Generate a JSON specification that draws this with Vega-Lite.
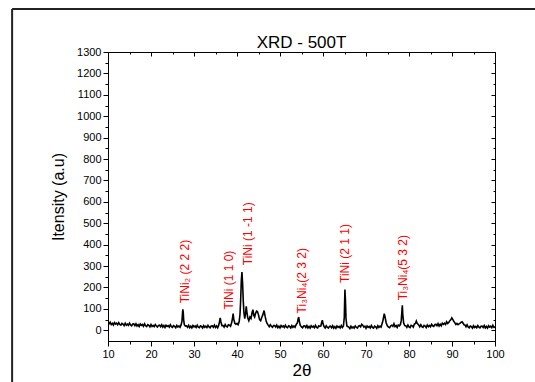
{
"$schema": "https://vega.github.io/schema/vega-lite/v6.json",
"width": 387, "height": 289,
"autosize": {"type": "none"},
"padding": {"left": 108, "top": 52, "right": 40, "bottom": 41},
"background": "white",
"config": {
  "view": {"stroke": "black", "strokeWidth": 1},
  "font": "Liberation Sans",
  "axis": {"grid": false, "domainColor": "black", "tickColor": "black", "labelColor": "black", "titleColor": "black", "labelFont": "Liberation Sans", "titleFont": "Liberation Sans", "labelFontSize": 11, "titleFontWeight": "normal", "labelFlush": false, "labelOverlap": false}
},
"title": {"text": "XRD - 500T", "fontSize": 17, "fontWeight": "normal", "font": "Liberation Sans", "color": "black", "offset": 0, "dy": 44},
"datasets": {
  "xrd": [
{"x":10.0,"y":37},{"x":10.25,"y":30},{"x":10.5,"y":38},{"x":10.75,"y":27},{"x":11.0,"y":33},{"x":11.25,"y":25},{"x":11.5,"y":36},{"x":11.75,"y":29},
{"x":12.0,"y":33},{"x":12.25,"y":26},{"x":12.5,"y":36},{"x":12.75,"y":27},{"x":13.0,"y":24},{"x":13.25,"y":32},{"x":13.5,"y":29},{"x":13.75,"y":22},
{"x":14.0,"y":33},{"x":14.25,"y":24},{"x":14.5,"y":29},{"x":14.75,"y":23},{"x":15.0,"y":33},{"x":15.25,"y":25},{"x":15.5,"y":21},{"x":15.75,"y":29},
{"x":16.0,"y":30},{"x":16.25,"y":22},{"x":16.5,"y":31},{"x":16.75,"y":20},{"x":17.0,"y":26},{"x":17.25,"y":18},{"x":17.5,"y":29},{"x":17.75,"y":23},
{"x":18.0,"y":27},{"x":18.25,"y":19},{"x":18.5,"y":30},{"x":18.75,"y":21},{"x":19.0,"y":17},{"x":19.25,"y":26},{"x":19.5,"y":23},{"x":19.75,"y":16},
{"x":20.0,"y":27},{"x":20.25,"y":18},{"x":20.5,"y":23},{"x":20.75,"y":17},{"x":21.0,"y":27},{"x":21.25,"y":20},{"x":21.5,"y":15},{"x":21.75,"y":23},
{"x":22.0,"y":24},{"x":22.25,"y":17},{"x":22.5,"y":26},{"x":22.75,"y":15},{"x":23.0,"y":22},{"x":23.25,"y":13},{"x":23.5,"y":24},{"x":23.75,"y":18},
{"x":24.0,"y":22},{"x":24.25,"y":15},{"x":24.5,"y":26},{"x":24.75,"y":17},{"x":25.0,"y":14},{"x":25.25,"y":22},{"x":25.5,"y":19},{"x":25.75,"y":12},
{"x":26.0,"y":23},{"x":26.25,"y":15},{"x":26.5,"y":20},{"x":26.75,"y":14},{"x":27.0,"y":25},{"x":27.2,"y":42},{"x":27.3,"y":72},{"x":27.4,"y":98},
{"x":27.5,"y":84},{"x":27.6,"y":48},{"x":27.75,"y":26},{"x":28.0,"y":20},{"x":28.25,"y":21},{"x":28.5,"y":14},{"x":28.75,"y":23},{"x":29.0,"y":12},
{"x":29.25,"y":19},{"x":29.5,"y":11},{"x":29.75,"y":22},{"x":30.0,"y":16},{"x":30.25,"y":20},{"x":30.5,"y":13},{"x":30.75,"y":24},{"x":31.0,"y":15},
{"x":31.25,"y":12},{"x":31.5,"y":21},{"x":31.75,"y":18},{"x":32.0,"y":11},{"x":32.25,"y":22},{"x":32.5,"y":14},{"x":32.75,"y":19},{"x":33.0,"y":13},
{"x":33.25,"y":23},{"x":33.5,"y":16},{"x":33.75,"y":12},{"x":34.0,"y":20},{"x":34.25,"y":21},{"x":34.5,"y":14},{"x":34.75,"y":24},{"x":35.0,"y":13},
{"x":35.25,"y":20},{"x":35.5,"y":12},{"x":35.75,"y":24},{"x":35.95,"y":42},{"x":36.1,"y":58},{"x":36.25,"y":40},{"x":36.5,"y":22},{"x":36.75,"y":22},
{"x":37.0,"y":15},{"x":37.25,"y":27},{"x":37.5,"y":18},{"x":37.75,"y":16},{"x":38.0,"y":26},{"x":38.25,"y":24},{"x":38.5,"y":19},{"x":38.75,"y":35},
{"x":38.95,"y":55},{"x":39.1,"y":78},{"x":39.25,"y":52},{"x":39.5,"y":33},{"x":39.75,"y":28},{"x":40.0,"y":32},{"x":40.25,"y":26},{"x":40.5,"y":40},
{"x":40.7,"y":75},{"x":40.85,"y":140},{"x":41.0,"y":230},{"x":41.15,"y":272},{"x":41.3,"y":220},{"x":41.45,"y":140},{"x":41.6,"y":85},{"x":41.8,"y":55},
{"x":42.0,"y":80},{"x":42.15,"y":112},{"x":42.3,"y":85},{"x":42.5,"y":58},{"x":42.75,"y":45},{"x":43.0,"y":62},{"x":43.25,"y":55},{"x":43.5,"y":82},
{"x":43.7,"y":96},{"x":43.9,"y":70},{"x":44.1,"y":62},{"x":44.3,"y":78},{"x":44.55,"y":90},{"x":44.75,"y":88},{"x":45.0,"y":72},{"x":45.25,"y":50},
{"x":45.5,"y":45},{"x":45.75,"y":60},{"x":46.0,"y":72},{"x":46.3,"y":92},{"x":46.55,"y":65},{"x":46.8,"y":42},{"x":47.0,"y":32},{"x":47.25,"y":24},
{"x":47.5,"y":17},{"x":47.75,"y":26},{"x":48.0,"y":19},{"x":48.25,"y":14},{"x":48.5,"y":22},{"x":48.75,"y":22},{"x":49.0,"y":15},{"x":49.25,"y":24},
{"x":49.5,"y":12},{"x":49.75,"y":19},{"x":50.0,"y":11},{"x":50.25,"y":22},{"x":50.5,"y":16},{"x":50.75,"y":20},{"x":51.0,"y":13},{"x":51.25,"y":24},
{"x":51.5,"y":15},{"x":51.75,"y":12},{"x":52.0,"y":21},{"x":52.25,"y":18},{"x":52.5,"y":11},{"x":52.75,"y":22},{"x":53.0,"y":14},{"x":53.25,"y":20},
{"x":53.5,"y":14},{"x":53.75,"y":26},{"x":54.05,"y":35},{"x":54.2,"y":52},{"x":54.35,"y":62},{"x":54.5,"y":42},{"x":54.7,"y":24},{"x":55.0,"y":16},
{"x":55.25,"y":12},{"x":55.5,"y":20},{"x":55.75,"y":21},{"x":56.0,"y":13},{"x":56.25,"y":22},{"x":56.5,"y":11},{"x":56.75,"y":18},{"x":57.0,"y":10},
{"x":57.25,"y":21},{"x":57.5,"y":15},{"x":57.75,"y":19},{"x":58.0,"y":12},{"x":58.25,"y":23},{"x":58.5,"y":14},{"x":58.75,"y":11},{"x":59.0,"y":21},
{"x":59.25,"y":18},{"x":59.5,"y":20},{"x":59.7,"y":38},{"x":59.85,"y":47},{"x":60.0,"y":30},{"x":60.25,"y":17},{"x":60.5,"y":11},{"x":60.75,"y":21},
{"x":61.0,"y":14},{"x":61.25,"y":10},{"x":61.5,"y":18},{"x":61.75,"y":19},{"x":62.0,"y":12},{"x":62.25,"y":21},{"x":62.5,"y":10},{"x":62.75,"y":17},
{"x":63.0,"y":9},{"x":63.25,"y":20},{"x":63.5,"y":14},{"x":63.75,"y":18},{"x":64.0,"y":11},{"x":64.25,"y":22},{"x":64.5,"y":13},{"x":64.75,"y":20},
{"x":64.95,"y":60},{"x":65.1,"y":190},{"x":65.22,"y":140},{"x":65.35,"y":55},{"x":65.55,"y":20},{"x":65.75,"y":18},{"x":66.0,"y":15},{"x":66.25,"y":8},
{"x":66.5,"y":19},{"x":66.75,"y":11},{"x":67.0,"y":16},{"x":67.25,"y":10},{"x":67.5,"y":20},{"x":67.75,"y":14},{"x":68.0,"y":10},{"x":68.25,"y":19},
{"x":68.5,"y":21},{"x":68.75,"y":16},{"x":69.0,"y":28},{"x":69.25,"y":24},{"x":69.5,"y":15},{"x":69.75,"y":19},{"x":70.0,"y":9},{"x":70.25,"y":20},
{"x":70.5,"y":14},{"x":70.75,"y":18},{"x":71.0,"y":11},{"x":71.25,"y":22},{"x":71.5,"y":13},{"x":71.75,"y":10},{"x":72.0,"y":19},{"x":72.25,"y":16},
{"x":72.5,"y":9},{"x":72.75,"y":21},{"x":73.0,"y":13},{"x":73.25,"y":19},{"x":73.5,"y":15},{"x":73.7,"y":28},{"x":73.9,"y":42},{"x":74.1,"y":62},
{"x":74.25,"y":78},{"x":74.45,"y":60},{"x":74.7,"y":34},{"x":75.0,"y":20},{"x":75.25,"y":15},{"x":75.5,"y":12},{"x":75.75,"y":21},{"x":76.0,"y":24},
{"x":76.25,"y":19},{"x":76.5,"y":31},{"x":76.75,"y":17},{"x":77.0,"y":22},{"x":77.25,"y":13},{"x":77.5,"y":25},{"x":77.75,"y":21},{"x":78.0,"y":27},
{"x":78.2,"y":45},{"x":78.35,"y":90},{"x":78.45,"y":117},{"x":78.55,"y":75},{"x":78.75,"y":35},{"x":79.0,"y":22},{"x":79.25,"y":21},{"x":79.5,"y":14},
{"x":79.75,"y":25},{"x":80.0,"y":16},{"x":80.25,"y":13},{"x":80.5,"y":23},{"x":80.75,"y":21},{"x":81.0,"y":15},{"x":81.25,"y":29},{"x":81.5,"y":32},
{"x":81.7,"y":43},{"x":81.9,"y":33},{"x":82.25,"y":25},{"x":82.5,"y":16},{"x":82.75,"y":26},{"x":83.0,"y":17},{"x":83.25,"y":14},{"x":83.5,"y":23},
{"x":83.75,"y":20},{"x":84.0,"y":13},{"x":84.25,"y":25},{"x":84.5,"y":17},{"x":84.75,"y":23},{"x":85.0,"y":17},{"x":85.25,"y":28},{"x":85.5,"y":21},
{"x":85.75,"y":18},{"x":86.0,"y":26},{"x":86.25,"y":28},{"x":86.5,"y":21},{"x":86.75,"y":31},{"x":87.0,"y":20},{"x":87.25,"y":28},{"x":87.5,"y":21},
{"x":87.75,"y":33},{"x":88.0,"y":28},{"x":88.25,"y":33},{"x":88.5,"y":27},{"x":88.75,"y":40},{"x":89.0,"y":32},{"x":89.25,"y":37},{"x":89.5,"y":45},
{"x":89.75,"y":50},{"x":89.95,"y":58},{"x":90.15,"y":52},{"x":90.4,"y":42},{"x":90.65,"y":36},{"x":90.9,"y":27},{"x":91.15,"y":32},{"x":91.4,"y":26},
{"x":91.65,"y":30},{"x":91.9,"y":33},{"x":92.15,"y":38},{"x":92.35,"y":40},{"x":92.55,"y":34},{"x":92.8,"y":26},{"x":93.0,"y":25},{"x":93.25,"y":16},
{"x":93.5,"y":26},{"x":93.75,"y":16},{"x":94.0,"y":12},{"x":94.25,"y":20},{"x":94.5,"y":17},{"x":94.75,"y":10},{"x":95.0,"y":21},{"x":95.25,"y":13},
{"x":95.5,"y":18},{"x":95.75,"y":12},{"x":96.0,"y":22},{"x":96.25,"y":15},{"x":96.5,"y":11},{"x":96.75,"y":19},{"x":97.0,"y":20},{"x":97.25,"y":13},
{"x":97.5,"y":22},{"x":97.75,"y":11},{"x":98.0,"y":18},{"x":98.25,"y":10},{"x":98.5,"y":21},{"x":98.75,"y":15},{"x":99.0,"y":19},{"x":99.25,"y":12},
{"x":99.5,"y":23},{"x":99.75,"y":14},{"x":100.0,"y":15}
  ],
  "peaks": [
    {"x": 27.8, "y": 126, "label": "TiNi₂ (2 2 2)"},
    {"x": 38.2, "y": 97, "label": "TiNi (1 1 0)"},
    {"x": 42.6, "y": 304, "label": "TiNi (1 -1 1)"},
    {"x": 55.2, "y": 79, "label": "Ti₃Ni₄(2 3 2)"},
    {"x": 65.1, "y": 221, "label": "TiNi (2 1 1)"},
    {"x": 78.6, "y": 140, "label": "Ti₃Ni₄(5 3 2)"}
  ],
  "frame": [
    {"x1": -12.3, "x2": -12.3, "y1": 1501, "y2": -260},
    {"x1": -12.3, "x2": 115, "y1": 1501, "y2": 1501}
  ]
},
"layer": [
  {
    "data": {"name": "xrd"},
    "mark": {"type": "line", "color": "black", "strokeWidth": 1.6, "clip": true},
    "encoding": {
      "x": {"field": "x", "type": "quantitative",
        "scale": {"domain": [10, 100], "nice": false, "zero": false},
        "axis": {"orient": "bottom", "values": [10,15,20,25,30,35,40,45,50,55,60,65,70,75,80,85,90,95,100],
          "format": "d", "labelExpr": "datum.value % 10 === 0 ? datum.label : ''",
          "tickSize": {"condition": {"test": "datum.value % 10 === 0", "value": 5}, "value": 3},
          "labelPadding": 2, "title": "2θ", "titleFontSize": 17, "titlePadding": 3}},
      "y": {"field": "y", "type": "quantitative",
        "scale": {"domain": [-50, 1300], "nice": false, "zero": false},
        "axis": {"orient": "left", "values": [0,50,100,150,200,250,300,350,400,450,500,550,600,650,700,750,800,850,900,950,1000,1050,1100,1150,1200,1250,1300],
          "format": "d", "labelExpr": "datum.value % 100 === 0 ? datum.label : ''",
          "tickSize": {"condition": {"test": "datum.value % 100 === 0", "value": 5}, "value": 3},
          "labelPadding": 2, "title": "Itensity (a.u)", "titleFontSize": 16, "titlePadding": 10}}
    }
  },
  {
    "data": {"name": "peaks"},
    "mark": {"type": "text", "angle": -90, "align": "left", "baseline": "middle", "color": "#ff0000", "fontSize": 12, "font": "Liberation Sans"},
    "encoding": {
      "x": {"field": "x", "type": "quantitative",
        "scale": {"domain": [10, 100], "nice": false, "zero": false},
        "axis": {"orient": "top", "values": [10,15,20,25,30,35,40,45,50,55,60,65,70,75,80,85,90,95,100],
          "labels": false, "title": null, "domain": false,
          "tickSize": {"condition": {"test": "datum.value % 10 === 0", "value": -4}, "value": -2}}},
      "y": {"field": "y", "type": "quantitative",
        "scale": {"domain": [-50, 1300], "nice": false, "zero": false},
        "axis": {"orient": "right", "values": [0,50,100,150,200,250,300,350,400,450,500,550,600,650,700,750,800,850,900,950,1000,1050,1100,1150,1200,1250,1300],
          "labels": false, "title": null, "domain": false,
          "tickSize": {"condition": {"test": "datum.value % 100 === 0", "value": -4}, "value": -2}}},
      "text": {"field": "label"}
    }
  },
  {
    "data": {"name": "frame"},
    "mark": {"type": "rule", "color": "#222222", "strokeWidth": 2},
    "encoding": {
      "x": {"field": "x1", "type": "quantitative", "scale": {"domain": [10, 100], "nice": false, "zero": false}, "axis": null},
      "x2": {"field": "x2"},
      "y": {"field": "y1", "type": "quantitative", "scale": {"domain": [-50, 1300], "nice": false, "zero": false}, "axis": null},
      "y2": {"field": "y2"}
    }
  }
],
"resolve": {"axis": {"x": "independent", "y": "independent"}}
}
